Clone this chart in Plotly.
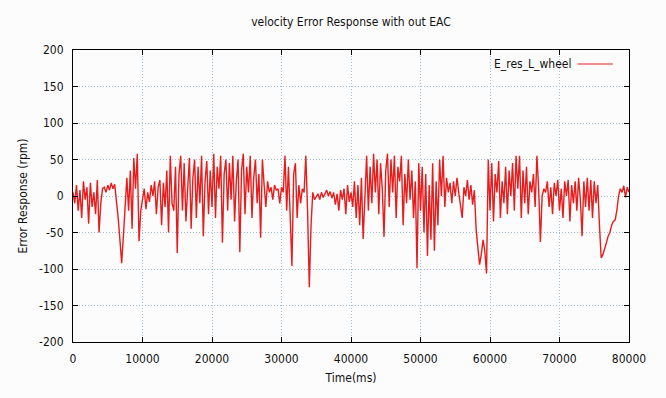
import numpy as np
import plotly.graph_objects as go

# Sampling period of the logged wheel error (ms)
SAMPLE_MS = 250

# Left-wheel velocity error (rpm), logged in 10 s blocks
err_00_10s = [5, -10, 15, -20, 8, -30, 20, -5, 12, -38,
              18, -15, 5, -25, 22, -50, -10, 10, 12, 5,
              15, 8, 18, 10, 16, -5, -30, -60, -92, -55,
              -10, 25, -20, 35, -45, 52, 10, 58, -62, -20]
err_10_20s = [-5, 10, -18, 5, -8, 15, 0, 20, -25, 12,
              22, -40, 18, -15, 35, -50, 55, -10, -20, 40,
              -78, 30, 55, -20, 45, -35, 10, 52, -45, 25,
              50, -30, 40, -10, 55, -55, 20, 48, -25, 35]
err_20_30s = [-15, 58, -30, 40, 10, 55, -64, 30, 50, -20,
              45, -5, 55, -35, 20, 50, -77, 35, 58, -25,
              40, 5, 55, -30, 25, 50, -10, 30, -57, 50,
              15, -15, 20, 5, 12, -5, 15, 8, 10, -10]
err_30_40s = [12, 5, 55, -20, 40, -45, -96, 30, 45, -30,
              15, -10, 10, 5, 55, -20, -125, -40, 5, -5,
              0, 3, -5, 5, -2, 4, 8, 0, 6, -3,
              5, -12, 3, -20, 8, -5, 10, -25, 15, -8]
err_40_50s = [5, -15, 20, -30, 15, -40, 25, -59, 10, 55,
              -20, 40, -10, 58, 5, 50, -25, 45, 10, -56,
              35, 58, -15, 50, 5, 55, -30, 40, 20, 55,
              -40, 30, -10, 50, -5, 35, -30, 20, -99, 45]
err_50_60s = [-20, 40, -50, 30, -82, 15, -60, 45, -75, 20,
              -40, 50, 0, 55, -15, 25, 5, 18, -10, 20,
              0, 25, 5, -15, -30, 12, 0, 22, -5, 15,
              -12, 8, -45, -70, -94, -80, -60, -75, -106, 50]
err_60_70s = [-20, 45, -35, 30, 5, 48, -30, 20, -10, 40,
              -25, 35, 0, 45, -20, 55, 10, 55, -30, 35,
              -10, 40, -25, 20, 5, 30, -15, 55, 10, -63,
              0, 10, 5, 20, -15, 12, -25, 18, 0, 22]
err_70_80s = [-20, 10, -30, 20, 0, 22, -35, 15, -10, 20,
              -20, 25, -5, -55, 20, -15, 25, -20, 22, -30,
              20, -10, 15, -40, -85, -80, -70, -64, -55, -50,
              -40, -35, -33, -20, 0, 10, 5, 14, -2, 12,
              5]

e_res_l_wheel = (err_00_10s + err_10_20s + err_20_30s + err_30_40s
                 + err_40_50s + err_50_60s + err_60_70s + err_70_80s)
time_ms = np.arange(len(e_res_l_wheel)) * SAMPLE_MS

x_ticks = [0, 10000, 20000, 30000, 40000, 50000, 60000, 70000, 80000]
y_ticks = [-200, -150, -100, -50, 0, 50, 100, 150, 200]

FONT = "DejaVu Sans Condensed, Liberation Sans Narrow, DejaVu Sans, sans-serif"
TEXT = "#111"
LINE_RED = "rgb(232,28,28)"
GRID = "rgb(160,192,214)"

fig = go.Figure()
fig.add_trace(go.Scatter(
    x=time_ms, y=e_res_l_wheel, mode="lines", name="E_res_L_wheel",
    line=dict(color=LINE_RED, width=1.4), showlegend=False,
))

axis_common = dict(
    showline=True, linecolor="black", linewidth=1, mirror="ticks",
    ticks="inside", ticklen=5, tickcolor="black",
    showgrid=True, gridcolor=GRID, griddash="1px,2px", gridwidth=1,
    zeroline=False,
    tickfont=dict(family=FONT, size=12, color=TEXT),
)

fig.update_xaxes(range=[0, 80000], tickvals=x_ticks,
                 ticktext=[str(v) for v in x_ticks],
                 title=dict(text="Time(ms)", font=dict(family=FONT, size=12, color=TEXT),
                            standoff=8),
                 ticklabelstandoff=6, **axis_common)
fig.update_yaxes(range=[-200, 200], tickvals=y_ticks,
                 ticktext=[str(v) for v in y_ticks],
                 title=dict(text="Error Response (rpm)",
                            font=dict(family=FONT, size=12, color=TEXT), standoff=8),
                 ticklabelstandoff=6, **axis_common)

# gnuplot-style key: label followed by a line sample, top right inside the frame
fig.add_annotation(x=0.899, y=0.952, xref="paper", yref="paper",
                   text="E_res_L_wheel", showarrow=False,
                   xanchor="right", yanchor="middle",
                   font=dict(family=FONT, size=12, color=TEXT))
fig.add_shape(type="line", xref="paper", yref="paper",
              x0=0.908, x1=0.971, y0=0.952, y1=0.952,
              line=dict(color=LINE_RED, width=1.2))

fig.update_layout(
    width=666, height=398,
    margin=dict(l=73, r=37, t=50, b=56),
    paper_bgcolor="#fcfcfc", plot_bgcolor="#fcfcfc",
    title=dict(text="velocity Error Response with out EAC",
               x=0.527, xanchor="center", y=1 - 22 / 398, yanchor="middle",
               yref="container",
               font=dict(family=FONT, size=12, color=TEXT)),
)

fig.write_html("out.html")
